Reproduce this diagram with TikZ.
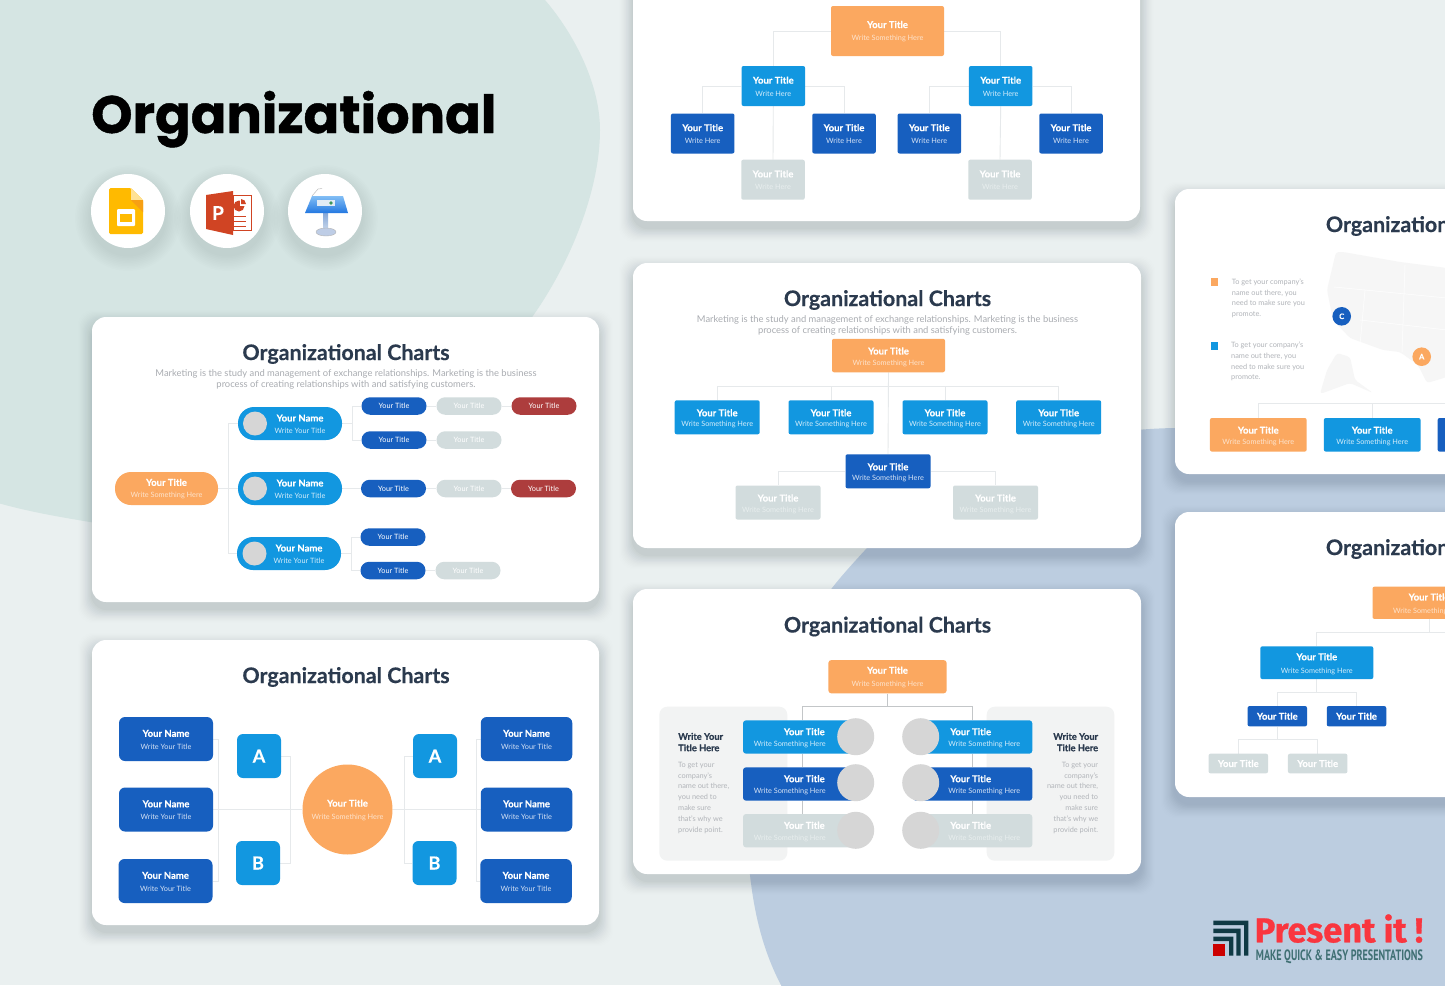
\documentclass[tikz,border=0pt]{standalone}
\usepackage{fontspec}
\usepackage{graphicx}
\setmainfont{Lato}[BoldFeatures={FakeBold=0.4}]
\newfontfamily\popf{Poppins}[BoldFeatures={FakeBold=0.8}]
\newfontfamily\firaf{Fira Sans}[BoldFeatures={FakeBold=0.8}]
\newfontfamily\ptf{PT Sans}
\pgfdeclarelayer{cards}
\pgfdeclarelayer{links}
\pgfsetlayers{cards,links,main}
\definecolor{cBase}{HTML}{EAF0F0}
\definecolor{cTeal}{HTML}{D5E5E3}
\definecolor{cBlueBg}{HTML}{BCCDE0}
\definecolor{cShadow}{HTML}{25364A}
\definecolor{cOrange}{HTML}{FBA860}
\definecolor{cBlue}{HTML}{1297E0}
\definecolor{cDark}{HTML}{175FBF}
\definecolor{cGrey}{HTML}{D2DCDD}
\definecolor{cRed}{HTML}{AD3D3D}
\definecolor{cDisc}{HTML}{D6D6D6}
\definecolor{cInk}{HTML}{2B3A4E}
\definecolor{cMuted}{HTML}{A9ACB1}
\definecolor{cLink}{HTML}{E6E9EB}
\definecolor{cPanel}{HTML}{F2F3F3}
\definecolor{cMap}{HTML}{F6F6F6}
\definecolor{subOrange}{HTML}{FDE3CC}
\definecolor{subBlue}{HTML}{D3ECFA}
\definecolor{subDark}{HTML}{D5E2F5}
\definecolor{subGrey}{HTML}{E8EEEE}
\definecolor{cLogoRed}{HTML}{F9363F}
\definecolor{cLogoDark}{HTML}{0F3A45}
\definecolor{cLogoTeal}{HTML}{3F6F73}
\newcommand{\twol}[3][12.6]{\ifdim#1pt>11.5pt\ifdim#1pt<13pt\rule{0pt}{8pt}\else\rule{0pt}{10pt}\fi\else\rule{0pt}{10pt}\fi{\fontsize{9.5}{12}\selectfont\bfseries #2}\\[\dimexpr#1pt-12pt\relax]{\fontsize{7.3}{9}\selectfont\color{subc}#3}}
\newcommand{\slidecard}[4]{%
  \foreach \i in {1,...,14}{\fill[cShadow,opacity={0.0016*(15-\i)},rounded corners=16pt] ({#1-\i*1.1},{#2-\i*1.1+7}) rectangle ({#3+\i*1.1},{#4+\i*1.1+7});}
  \fill[white,rounded corners=14pt] (#1,#2) rectangle (#3,#4);}
\newcommand{\iconback}[2]{%
  \foreach \i in {1,...,10}{\fill[cShadow,opacity=0.008] (#1,#2+7) circle[radius=37pt+\i*1.6pt];}
  \fill[white] (#1,#2) circle[radius=37pt];}
\tikzset{
  rb/.style={rectangle,rounded corners=2pt,inner sep=0pt,align=center,text=white},
  sz/.style 2 args={minimum width=#1pt,minimum height=#2pt},
  bxo/.style={fill=cOrange,execute at begin node={\colorlet{subc}{subOrange}}},
  bxb/.style={fill=cBlue,execute at begin node={\colorlet{subc}{subBlue}}},
  bxd/.style={fill=cDark,execute at begin node={\colorlet{subc}{subDark}}},
  bxg/.style={fill=cGrey,execute at begin node={\colorlet{subc}{subGrey}}},
  bxr/.style={fill=cRed,execute at begin node={\colorlet{subc}{subGrey}}},
  pillsmall/.style={rb,sz={65}{17.5},rounded corners=8.7pt,font=\fontsize{7.3}{9}\selectfont},
  link/.style={draw=cLink,line width=0.9pt},
  thinlink/.style={draw=cLink!85!black,line width=0.55pt},
  bigttl/.style={inner sep=0pt,text=cInk,font=\fontsize{21.4}{26}\selectfont\bfseries},
  subttl/.style={inner sep=0pt,align=center,text=cMuted,font=\fontsize{9.38}{11.5}\selectfont},
  disc/.style={circle,fill=cDisc,inner sep=0pt,minimum size=#1pt},
  ttlonly/.style={font=\fontsize{9.5}{12}\selectfont\bfseries},
  plainttl/.style={inner sep=0pt,text=white,font=\fontsize{9.5}{12}\selectfont\bfseries},
  plainsub/.style={inner sep=0pt,text=#1,font=\fontsize{7.3}{10}\selectfont},
  bodyl/.style={inner sep=0pt,text=cMuted!90!white,font=\fontsize{7.35}{10.8}\selectfont},
  headl/.style={inner sep=0pt,text=cInk,font=\fontsize{9.3}{11.4}\selectfont\bfseries},
}
\begin{document}
\begin{tikzpicture}[x=1pt,y=-1pt]
\useasboundingbox (0,0) rectangle (1445,985);
\clip (0,0) rectangle (1445,985);

% ---------- background and slide cards
\begin{pgfonlayer}{cards}
\fill[cBase] (0,0) rectangle (1445,985);
\fill[cTeal] (-2,0) -- (545,0) .. controls (575,35) and (600,85) .. (600,130)
  .. controls (600,190) and (570,265) .. (530,320)
  .. controls (470,400) and (300,560) .. (90,522)
  .. controls (60,517) and (30,512) .. (-2,503) -- cycle;
\fill[cBlueBg] (1447,445) -- (1175,428) .. controls (1050,430) and (940,475) .. (867,548)
  .. controls (855,561) and (843,574) .. (832,588)
  .. controls (770,670) and (740,780) .. (750,875)
  .. controls (755,920) and (765,955) .. (782,987) -- (1447,987) -- cycle;
\slidecard{92}{317}{599}{602}
\slidecard{92}{640}{599}{925}
\slidecard{633}{-65}{1140}{221}
\slidecard{633}{263}{1141}{548}
\slidecard{633}{589}{1141}{874}
\slidecard{1175}{189}{1700}{474}
\slidecard{1175}{512}{1700}{797}
\iconback{128}{211}
\iconback{227}{211}
\iconback{325}{211}
\end{pgfonlayer}

% ---------- headline
\node[anchor=base west,inner sep=0pt,text=black,font=\fontsize{52.6}{60}\selectfont\popf\bfseries] (headline) at (91,133) {Organizational};

% Slides icon
\fill[rounded corners=1.5pt,fill={rgb,255:red,255;green,186;blue,0}] (109,188) -- (131,188) -- (143,200) -- (143,234) -- (109,234) -- cycle;
\fill[fill={rgb,255:red,255;green,226;blue,150}] (131,188) -- (143,200) -- (131,200) -- cycle;
\fill[fill={rgb,255:red,247;green,160;blue,20}] (131,200) -- (143,200) -- (143,212) -- cycle;
\fill[white,rounded corners=1pt] (117,209) rectangle (135,226);
\fill[fill={rgb,255:red,255;green,186;blue,0}] (120,214) rectangle (132,222);

% PowerPoint icon
\fill[white,draw={rgb,255:red,208;green,68;blue,35},line width=0.8pt] (233,195) rectangle (251,230);
\fill[fill={rgb,255:red,208;green,68;blue,35}] (239,206) circle[radius=5.5pt];
\fill[white] (239.5,199) rectangle (246,205.5);
\fill[fill={rgb,255:red,208;green,68;blue,35}] (241,204) -- (241,199) arc[start angle=90,end angle=0,radius=5pt] -- cycle;
\fill[fill={rgb,255:red,208;green,68;blue,35}] (233,216) rectangle (246,217.3);
\fill[fill={rgb,255:red,208;green,68;blue,35}] (233,221) rectangle (246,222.3);
\fill[fill={rgb,255:red,208;green,68;blue,35}] (233,226) rectangle (246,227.3);
\fill[fill={rgb,255:red,208;green,68;blue,35}] (206,195) -- (233,191) -- (233,235) -- (206,229) -- cycle;
\node[inner sep=0pt,text=white,font=\fontsize{19}{20}\selectfont\bfseries] (pptP) at (218,213) {P};

% Keynote icon
\draw[line width=0.5pt,draw=gray!50] (312,196) -- (318,189) -- (322,188.5);
\shade[top color={rgb,255:red,130;green,165;blue,215},bottom color={rgb,255:red,200;green,215;blue,235}] (323.5,212) rectangle (328,230);
\fill[fill={rgb,255:red,190;green,205;blue,230},draw=gray!60,line width=0.4pt] (326,232) ellipse[x radius=10pt,y radius=4pt];
\shade[top color={rgb,255:red,130;green,190;blue,245},bottom color={rgb,255:red,35;green,120;blue,225}] (312,196) -- (343,196) -- (348,213) -- (305,213) -- cycle;
\fill[fill={rgb,255:red,225;green,235;blue,245}] (317,200) rectangle (335,206);
\fill[fill={rgb,255:red,60;green,150;blue,90}] (331,203) circle[radius=1.8pt];

% ---------- slide 1
\node[bigttl] (c1t) at (346,354) {Organizational Charts};
\node[subttl] (c1s) at (346,379.5) {Marketing is the study and management of exchange relationships. Marketing is the business\\process of creating relationships with and satisfying customers.};
\node[rb,bxo,sz={103}{33},rounded corners=16pt] (c1o) at (166.5,488.5) {\twol[12]{Your Title}{Write Something Here}};
\node[rb,bxb,sz={104}{33},rounded corners=16pt] (c1p1) at (290,423.5) {\hspace*{20pt}\twol[12]{Your Name}{\hspace*{20pt}Write Your Title}};
\node[rb,bxb,sz={104}{33},rounded corners=16pt] (c1p2) at (290,488.5) {\hspace*{20pt}\twol[12]{Your Name}{\hspace*{20pt}Write Your Title}};
\node[rb,bxb,sz={104}{33},rounded corners=16pt] (c1p3) at (289,553.5) {\hspace*{20pt}\twol[12]{Your Name}{\hspace*{20pt}Write Your Title}};
\node[disc=24] (c1f1) at (255,423.5) {};
\node[disc=24] (c1f2) at (255,488.5) {};
\node[disc=24] (c1f3) at (254.5,553.5) {};
\node[pillsmall,fill=cDark] (c1d1) at (394,406) {Your Title};
\node[pillsmall,fill=cGrey] (c1g1) at (469,406) {Your Title};
\node[pillsmall,fill=cRed] (c1r1) at (544,406) {Your Title};
\node[pillsmall,fill=cDark] (c1d2) at (394,440) {Your Title};
\node[pillsmall,fill=cGrey] (c1g2) at (469,440) {Your Title};
\node[pillsmall,fill=cDark] (c1d3) at (393.5,488.5) {Your Title};
\node[pillsmall,fill=cGrey] (c1g3) at (469,488.5) {Your Title};
\node[pillsmall,fill=cRed] (c1r3) at (543.5,488.5) {Your Title};
\node[pillsmall,fill=cDark] (c1d4) at (393,537) {Your Title};
\node[pillsmall,fill=cDark] (c1d5) at (393,570.5) {Your Title};
\node[pillsmall,fill=cGrey] (c1g5) at (468,570.5) {Your Title};
\begin{pgfonlayer}{links}
\draw[link] (c1o.east) -- (c1p2.west);
\draw[link] (c1o.east) -- ++(10,0) |- (c1p1.west);
\draw[link] (c1o.east) -- ++(10,0) |- (c1p3.west);
\draw[link] (c1p1.east) -- ++(10,0) |- (c1d1.west);
\draw[link] (c1p1.east) -- ++(10,0) |- (c1d2.west);
\draw[link] (c1p2.east) -- (c1d3.west);
\draw[link] (c1p3.east) -- ++(10,0) |- (c1d4.west);
\draw[link] (c1p3.east) -- ++(10,0) |- (c1d5.west);
\draw[link] (c1d1.east) -- (c1g1.west);
\draw[link] (c1g1.east) -- (c1r1.west);
\draw[link] (c1d2.east) -- (c1g2.west);
\draw[link] (c1d3.east) -- (c1g3.west);
\draw[link] (c1g3.east) -- (c1r3.west);
\draw[link] (c1d5.east) -- (c1g5.west);
\end{pgfonlayer}

% ---------- slide 2
\node[bigttl] (c2t) at (346,677) {Organizational Charts};
\node[circle,fill=cOrange,text=white,inner sep=0pt,minimum size=90pt,align=center,execute at begin node={\colorlet{subc}{subOrange}}] (c2c) at (347.5,809.5) {\twol[12.4]{Your Title}{Write Something Here}};
\node[rb,bxd,sz={94}{44},rounded corners=6pt] (c2l1) at (166,739) {\twol[12.4]{Your Name}{Write Your Title}};
\node[rb,bxd,sz={94}{44},rounded corners=6pt] (c2l2) at (166,809.5) {\twol[12.4]{Your Name}{Write Your Title}};
\node[rb,bxd,sz={94}{44},rounded corners=6pt] (c2l3) at (165.5,881) {\twol[12.4]{Your Name}{Write Your Title}};
\node[rb,bxd,sz={91.5}{44},rounded corners=6pt] (c2r1) at (526.5,739) {\twol[12.4]{Your Name}{Write Your Title}};
\node[rb,bxd,sz={91.5}{44},rounded corners=6pt] (c2r2) at (526.5,809.5) {\twol[12.4]{Your Name}{Write Your Title}};
\node[rb,bxd,sz={91.5}{44},rounded corners=6pt] (c2r3) at (526,881) {\twol[12.4]{Your Name}{Write Your Title}};
\node[rb,bxb,sz={44}{44},rounded corners=6pt,font=\fontsize{18}{20}\selectfont\bfseries] (c2a1) at (259,756) {A};
\node[rb,bxb,sz={44}{44},rounded corners=6pt,font=\fontsize{18}{20}\selectfont\bfseries] (c2b1) at (258,863) {B};
\node[rb,bxb,sz={44}{44},rounded corners=6pt,font=\fontsize{18}{20}\selectfont\bfseries] (c2a2) at (435,756) {A};
\node[rb,bxb,sz={44}{44},rounded corners=6pt,font=\fontsize{18}{20}\selectfont\bfseries] (c2b2) at (434.5,863) {B};
\coordinate (c2j1) at (290.7,809.5);
\coordinate (c2j2) at (218,809.5);
\coordinate (c2j3) at (404,809.5);
\coordinate (c2j4) at (476,809.5);
\begin{pgfonlayer}{links}
\draw[link] (c2c.west) -- (c2j2);
\draw[link] (c2a1.east) -| (c2j1);
\draw[link] (c2b1.east) -| (c2j1);
\draw[link] (c2l1.east) -| (c2j2);
\draw[link] (c2l2.east) -- (c2j2);
\draw[link] (c2l3.east) -| (c2j2);
\draw[link] (c2c.east) -- (c2j4);
\draw[link] (c2a2.west) -| (c2j3);
\draw[link] (c2b2.west) -| (c2j3);
\draw[link] (c2r1.west) -| (c2j4);
\draw[link] (c2r2.west) -- (c2j4);
\draw[link] (c2r3.west) -| (c2j4);
\end{pgfonlayer}

% ---------- slide 3
\node[rb,bxo,sz={113}{50}] (c3o) at (887.5,31) {\twol{Your Title}{Write Something Here}};
\node[rb,bxb,sz={63.5}{40}] (c3b1) at (773.3,86) {\twol{Your Title}{Write Here}};
\node[rb,bxb,sz={63.5}{40}] (c3b2) at (1000.7,86) {\twol{Your Title}{Write Here}};
\node[rb,bxd,sz={63.5}{40}] (c3d1) at (702.7,133.5) {\twol{Your Title}{Write Here}};
\node[rb,bxd,sz={63.5}{40}] (c3d2) at (844,133.5) {\twol{Your Title}{Write Here}};
\node[rb,bxd,sz={63.5}{40}] (c3d3) at (929.3,133.5) {\twol{Your Title}{Write Here}};
\node[rb,bxd,sz={63.5}{40}] (c3d4) at (1071,133.5) {\twol{Your Title}{Write Here}};
\node[rb,bxg,sz={63.5}{40}] (c3g1) at (773,179.7) {\twol{Your Title}{Write Here}};
\node[rb,bxg,sz={63.5}{40}] (c3g2) at (1000,179.7) {\twol{Your Title}{Write Here}};
\begin{pgfonlayer}{links}
\draw[link] (c3o.west) -| (c3b1.north);
\draw[link] (c3o.east) -| (c3b2.north);
\draw[link] (c3b1.west) -| (c3d1.north);
\draw[link] (c3b1.east) -| (c3d2.north);
\draw[link] (c3b2.west) -| (c3d3.north);
\draw[link] (c3b2.east) -| (c3d4.north);
\draw[link] (c3b1.south) -- (c3g1.north);
\draw[link] (c3b2.south) -- (c3g2.north);
\end{pgfonlayer}

% ---------- slide 4
\node[bigttl] (c4t) at (887.5,300) {Organizational Charts};
\node[subttl] (c4s) at (887.5,325.5) {Marketing is the study and management of exchange relationships. Marketing is the business\\process of creating relationships with and satisfying customers.};
\node[rb,bxo,sz={113}{33.5}] (c4o) at (888.5,355.5) {\twol[10.7]{Your Title}{Write Something Here}};
\node[rb,bxb,sz={85}{34}] (c4b1) at (717.2,417.3) {\twol[10.7]{Your Title}{Write Something Here}};
\node[rb,bxb,sz={85}{34}] (c4b2) at (831,417.3) {\twol[10.7]{Your Title}{Write Something Here}};
\node[rb,bxb,sz={85}{34}] (c4b3) at (945,417.3) {\twol[10.7]{Your Title}{Write Something Here}};
\node[rb,bxb,sz={85}{34}] (c4b4) at (1058.7,417.3) {\twol[10.7]{Your Title}{Write Something Here}};
\node[rb,bxd,sz={85}{34}] (c4d) at (888,471.3) {\twol[10.7]{Your Title}{Write Something Here}};
\node[rb,bxg,sz={85}{34}] (c4g1) at (778,502.5) {\twol[10.7]{Your Title}{Write Something Here}};
\node[rb,bxg,sz={85}{34}] (c4g2) at (995.5,502.5) {\twol[10.7]{Your Title}{Write Something Here}};
\coordinate (c4bus) at (888.5,386);
\begin{pgfonlayer}{links}
\draw[link] (c4o.south) -- (c4d.north);
\draw[link] (c4b1.north) |- (c4bus);
\draw[link] (c4b2.north) |- (c4bus);
\draw[link] (c4b3.north) |- (c4bus);
\draw[link] (c4b4.north) |- (c4bus);
\draw[link] (c4d.west) -| (c4g1.north);
\draw[link] (c4d.east) -| (c4g2.north);
\end{pgfonlayer}

% ---------- slide 5
\begin{pgfonlayer}{links}
\fill[cPanel,rounded corners=8pt] (659.3,706.7) rectangle (787.3,860.7);
\fill[cPanel,rounded corners=8pt] (986.7,706.7) rectangle (1114.3,860.7);
\end{pgfonlayer}
\node[bigttl] (c5t) at (887.5,626.5) {Organizational Charts};
\node[rb,bxo,sz={118.3}{33.3},rounded corners=3pt] (c5o) at (887.5,676.7) {\twol{Your Title}{Write Something Here}};
\node[rb,bxb,sz={118.6}{33.4},rounded corners=3pt] (c5l1) at (802.3,737) {};
\node[rb,bxd,sz={118.6}{33.4},rounded corners=3pt] (c5l2) at (802.3,784) {};
\node[rb,bxg,sz={118.6}{33.4},rounded corners=3pt] (c5l3) at (802.3,830.7) {};
\node[rb,bxb,sz={119.2}{33.4},rounded corners=3pt] (c5r1) at (972.7,737) {};
\node[rb,bxd,sz={119.2}{33.4},rounded corners=3pt] (c5r2) at (972.7,784) {};
\node[rb,bxg,sz={119.2}{33.4},rounded corners=3pt] (c5r3) at (972.7,830.7) {};
\node[disc=37] (c5dl1) at (855.7,736.7) {};
\node[disc=37] (c5dl2) at (855.7,782.7) {};
\node[disc=37] (c5dl3) at (855.7,830.3) {};
\node[disc=37] (c5dr1) at (920.7,736.7) {};
\node[disc=37] (c5dr2) at (920.7,782.7) {};
\node[disc=37] (c5dr3) at (920.7,830.3) {};
\node[plainttl] (c5tl1) at (804.3,731.7) {Your Title};
\node[plainsub=subBlue] (c5sl1) at (789.7,744.8) {Write Something Here};
\node[plainttl] (c5tl2) at (804.3,778.7) {Your Title};
\node[plainsub=subDark] (c5sl2) at (789.7,791.8) {Write Something Here};
\node[plainttl] (c5tl3) at (804.3,825.3) {Your Title};
\node[plainsub=subGrey] (c5sl3) at (789.7,838.5) {Write Something Here};
\node[plainttl] (c5tr1) at (970.7,731.7) {Your Title};
\node[plainsub=subBlue] (c5sr1) at (984.3,744.8) {Write Something Here};
\node[plainttl] (c5tr2) at (970.7,778.7) {Your Title};
\node[plainsub=subDark] (c5sr2) at (984.3,791.8) {Write Something Here};
\node[plainttl] (c5tr3) at (970.7,825.3) {Your Title};
\node[plainsub=subGrey] (c5sr3) at (984.3,838.5) {Write Something Here};
\node[headl,anchor=north west,align=left] (c5hl) at (678,732.7) {Write Your\\Title Here};
\node[headl,anchor=north east,align=right] (c5hr) at (1098.3,732.7) {Write Your\\Title Here};
\node[bodyl,anchor=north west,align=left] (c5bl) at (678,761.8) {To get your\\company's\\name out there,\\you need to\\make sure\\that's why we\\provide point.};
\node[bodyl,anchor=north east,align=right] (c5br) at (1098.3,761.8) {To get your\\company's\\name out there,\\you need to\\make sure\\that's why we\\provide point.};
\coordinate (c5bus) at (887.5,706.7);
\begin{pgfonlayer}{links}
\draw[thinlink] (c5o.south) -- (c5bus);
\draw[thinlink] (c5l1.north) |- (c5bus);
\draw[thinlink] (c5r1.north) |- (c5bus);
\draw[thinlink] (c5l1.south) -- (c5l2.north);
\draw[thinlink] (c5l2.south) -- (c5l3.north);
\draw[thinlink] (c5r1.south) -- (c5r2.north);
\draw[thinlink] (c5r2.south) -- (c5r3.north);
\end{pgfonlayer}

% ---------- slide 6
\node[bigttl,anchor=west] (c6t) at (1325.7,226) {Organizational Charts};
\fill[cMap,rounded corners=3pt] (1336,252) -- (1343,252) -- (1400,262) -- (1447,268) -- (1447,377) -- (1427,383) -- (1418,365) -- (1400,352) -- (1383,350) -- (1350,338) -- (1333,320) -- (1327,290) -- cycle;
\fill[cMap,rounded corners=3pt] (1337,353) -- (1350,357) -- (1355,380) -- (1373,393) -- (1350,383) -- (1320,394) -- (1327,370) -- cycle;
\draw[white,line width=0.5pt] (1334,287) -- (1447,298);
\draw[white,line width=0.5pt] (1365,290) -- (1360,345);
\draw[white,line width=0.5pt] (1405,265) -- (1402,352);
\draw[white,line width=0.5pt] (1360,320) -- (1447,330);
\fill[fill=cOrange] (1210.7,278) rectangle (1218.4,286);
\fill[fill=cBlue] (1210.7,342.3) rectangle (1218.4,350);
\node[bodyl,anchor=north west,align=left] (c6p1) at (1231.7,278.5) {To get your company's\\name out there, you\\need to make sure you\\promote.};
\node[bodyl,anchor=north west,align=left] (c6p2) at (1231,341.7) {To get your company's\\name out there, you\\need to make sure you\\promote.};
\node[circle,fill=cDark,text=white,inner sep=0pt,minimum size=18.6pt,font=\fontsize{7.5}{9}\selectfont\bfseries] (c6c) at (1341.7,316.3) {C};
\node[circle,fill=cOrange,text=white,inner sep=0pt,minimum size=18.6pt,font=\fontsize{7.5}{9}\selectfont\bfseries] (c6a) at (1421.7,356.7) {A};
\node[rb,bxo,sz={96.7}{33.6}] (c6b1) at (1258.3,434.8) {\twol[11]{Your Title}{Write Something Here}};
\node[rb,bxb,sz={96.7}{33.6}] (c6b2) at (1372.2,434.8) {\twol[11]{Your Title}{Write Something Here}};
\node[rb,bxd,sz={96.7}{33.6}] (c6b3) at (1486,434.8) {};
\coordinate (c6bus) at (1486,403.3);
\begin{pgfonlayer}{links}
\draw[link] (c6b1.north) |- (c6bus);
\draw[link] (c6b2.north) |- (c6bus);
\draw[link] (c6b3.north) |- (c6bus);
\end{pgfonlayer}

% ---------- slide 7
\node[bigttl,anchor=west] (c7t) at (1325.7,549) {Organizational Charts};
\node[rb,bxo,sz={113}{32.3}] (c7o) at (1429,602.8) {\twol[13.3]{Your Title}{Write Something Here}};
\node[rb,bxb,sz={113}{32.7}] (c7b) at (1316.8,662.7) {\twol[13.6]{Your Title}{Write Something Here}};
\node[rb,bxd,sz={59.5}{20.3},ttlonly] (c7d1) at (1277.3,716.2) {Your Title};
\node[rb,bxd,sz={59.5}{20.3},ttlonly] (c7d2) at (1356.5,716.2) {Your Title};
\node[rb,bxg,sz={59.5}{19.6},ttlonly] (c7g1) at (1238.3,763.5) {Your Title};
\node[rb,bxg,sz={59.5}{19.6},ttlonly] (c7g2) at (1317.7,763.5) {Your Title};
\coordinate (c7bus) at (1429,632.3);
\coordinate (c7busr) at (1500,632.3);
\coordinate (c7j1) at (1316.8,692);
\coordinate (c7j2) at (1277.3,739.7);
\begin{pgfonlayer}{links}
\draw[link] (c7o.south) -- (c7bus);
\draw[link] (c7b.north) |- (c7busr);
\draw[link] (c7b.south) -- (c7j1);
\draw[link] (c7d1.north) |- (c7j1);
\draw[link] (c7d2.north) |- (c7j1);
\draw[link] (c7d1.south) -- (c7j2);
\draw[link] (c7g1.north) |- (c7j2);
\draw[link] (c7g2.north) |- (c7j2);
\end{pgfonlayer}

% ---------- brand mark
\fill[cLogoDark] (1213.3,920.7) -- (1248.3,920.7) -- (1248.3,955.7) -- (1244,955.7) -- (1244,925) -- (1213.3,925) -- cycle;
\fill[cLogoDark] (1213.3,928.7) -- (1240.7,928.7) -- (1240.7,955.7) -- (1236.3,955.7) -- (1236.3,933) -- (1213.3,933) -- cycle;
\fill[cLogoDark] (1213.3,936.7) -- (1233.3,936.7) -- (1233.3,955.7) -- (1229,955.7) -- (1229,941) -- (1213.3,941) -- cycle;
\fill[fill={rgb,255:red,204;green,0;blue,0}] (1213.3,944) rectangle (1225,955.7);
\node[anchor=base west,inner sep=0pt,text=cLogoRed,font=\fontsize{34.5}{38}\selectfont\firaf\bfseries] (brand) at (1254.5,942.3) {Present it !};
\node[anchor=base west,inner sep=0pt,text=cLogoTeal,font=\ptf\bfseries] (brandsub) at (1255.7,960.7) {\resizebox{167pt}{10.7pt}{MAKE QUICK \& EASY PRESENTATIONS}};
\end{tikzpicture}
\end{document}
